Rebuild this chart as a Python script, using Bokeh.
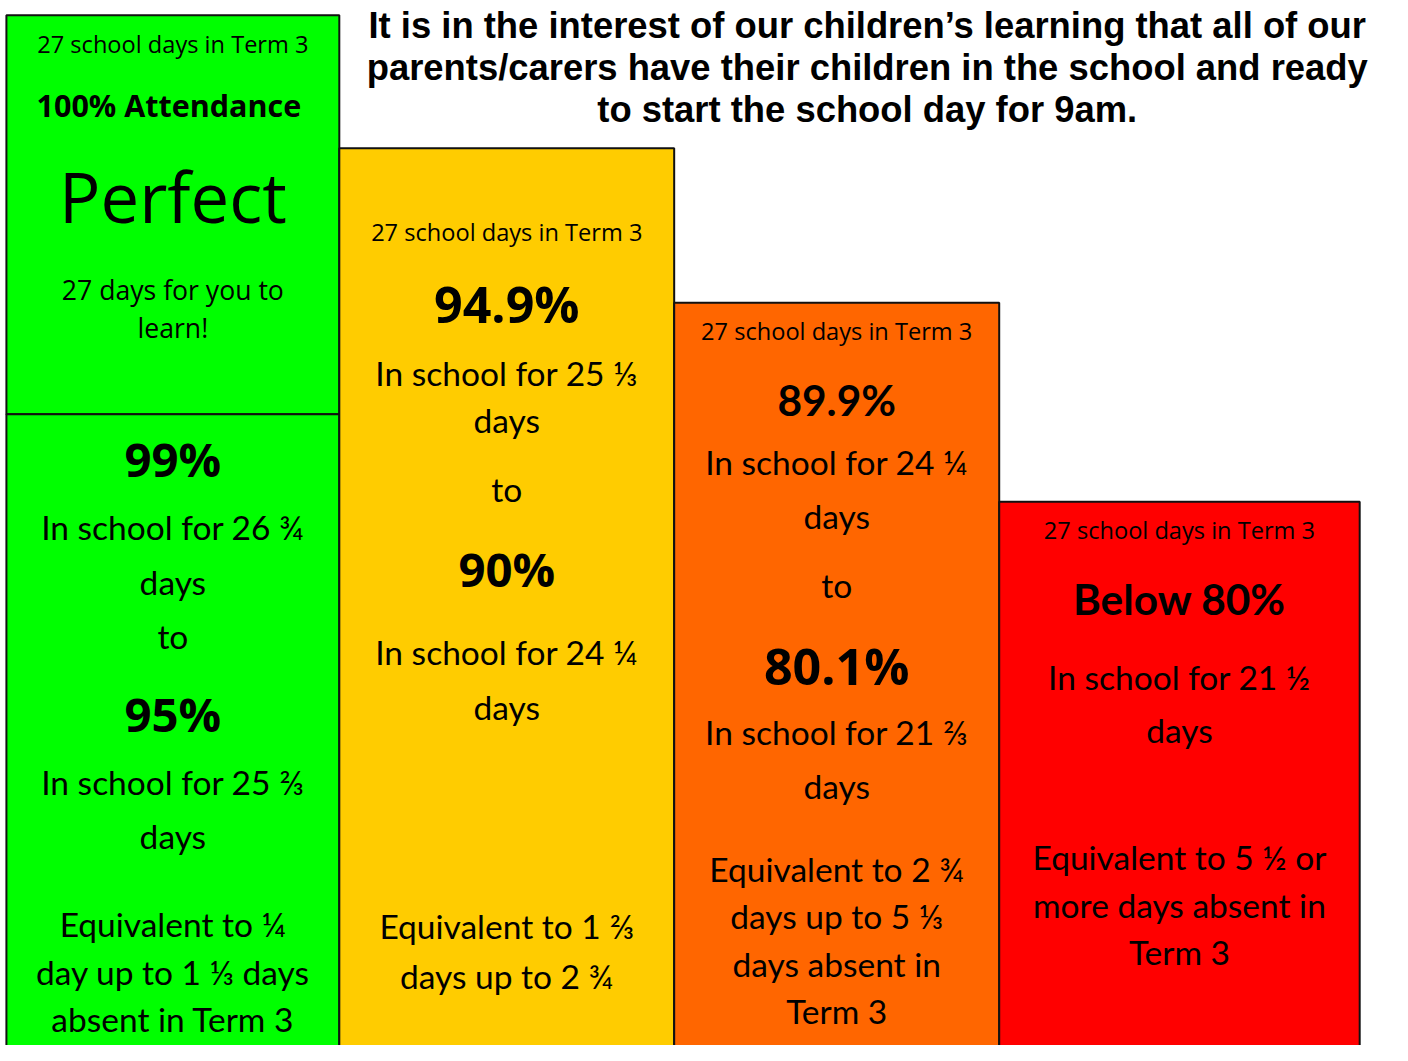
from bokeh.plotting import figure
from bokeh.models import Range1d, ColumnDataSource
from bokeh.core.properties import value
from bokeh.embed import file_html
from bokeh.resources import INLINE

# ---------------- data ----------------
categories = ["Perfect", "99% to 95%", "94.9% to 90%", "89.9% to 80.1%", "Below 80%"]
term_days = 27
# block edges / tops of the attendance steps (reference units)
band_left = [6, 6, 344, 684, 1014]
band_right = [344, 344, 684, 1014, 1380]
band_top = [15, 420, 150, 307, 509]
band_colors = ["#00FF00", "#00FF00", "#FFCC00", "#FF6600", "#FF0000"]

title_lines = [
    "It is in the interest of our children\u2019s learning that all of our",
    "parents/carers have their children in the school and ready",
    "to start the school day for 9am.",
]

header = "27 school days in Term 3"

# (text, y, style) for each block
block_texts = [
    [(header, 44, "cs"), ("100%  Attendance", 106, "csb"), ("Perfect", 198, "big"),
     ("27 days for you to", 294, "cm"), ("learn!", 333, "cm")],
    [("99%", 465, "pct"), ("In school for 26 \u00be", 535, "cal"), ("days", 590, "cal"),
     ("to", 645, "cal"), ("95%", 724, "pct"), ("In school for 25 \u2154", 793, "cal"),
     ("days", 848, "cal"), ("Equivalent to \u00bc", 938, "cal"),
     ("day up to 1 \u2153 days", 986, "cal"), ("absent in Term 3", 1034, "cal")],
    [(header, 235, "cs"), ("94.9%", 308, "pctd"), ("In school for 25 \u2153", 378, "cal"),
     ("days", 426, "cal"), ("to", 496, "cal"), ("90%", 577, "pct"),
     ("In school for 24 \u00bc", 661, "cal"), ("days", 717, "cal"),
     ("Equivalent to 1 \u2154", 940, "cal"), ("days up to 2 \u00be", 990, "cal")],
    [(header, 336, "cs"), ("89.9%", 405, "calb"), ("In school for 24 \u00bc", 469, "cal"),
     ("days", 523, "cal"), ("to", 593, "cal"), ("80.1%", 675, "pctd"),
     ("In school for 21 \u2154", 743, "cal"), ("days", 798, "cal"),
     ("Equivalent to 2 \u00be", 882, "cal"), ("days up to 5 \u2153", 930, "cal"),
     ("days absent in", 978, "cal"), ("Term 3", 1026, "cal")],
    [(header, 538, "cs"), ("Below 80%", 607, "calb"), ("In school for 21 \u00bd", 687, "cal"),
     ("days", 741, "cal"), ("Equivalent to 5 \u00bd or", 870, "cal"),
     ("more days absent in", 918, "cal"), ("Term 3", 966, "cal")],
]

# ---------------- figure ----------------
W, H = 1392, 1045
REF_H = 1061
s = H / REF_H  # uniform scale of the reference layout into the figure


def px(v):
    return f"{v * s:.1f}px"


p = figure(width=W, height=H, output_backend="svg", toolbar_location=None,
           x_range=Range1d(0, W / s), y_range=Range1d(H / s, 0),
           min_border=0)
p.axis.visible = False
p.xgrid.visible = False
p.ygrid.visible = False
p.outline_line_color = None
p.background_fill_color = "white"
p.border_fill_color = "white"

bottom = [1090] * len(band_top)
bottom[0] = band_top[1]
src = ColumnDataSource(dict(left=band_left, right=band_right, top=band_top,
                            bottom=bottom, color=band_colors, cat=categories))
p.quad(left="left", right="right", top="top", bottom="bottom", source=src,
       fill_color="color", line_color="#111111", line_width=2)

COMIC = "Open Sans"
CAL = "Lato"
styles = {
    "cs": (COMIC, "normal", 24),
    "csb": (COMIC, "bold", 31),
    "big": (COMIC, "normal", 70),
    "cm": (COMIC, "normal", 27),
    "pct": (COMIC, "bold", 48),
    "pctd": (COMIC, "bold", 51),
    "cal": (CAL, "normal", 34),
    "calb": (CAL, "bold", 43),
}

groups = {k: dict(x=[], y=[], t=[]) for k in styles}
for i, items in enumerate(block_texts):
    cx = (band_left[i] + band_right[i]) / 2
    for txt, y, st in items:
        groups[st]["x"].append(cx)
        groups[st]["y"].append(y)
        groups[st]["t"].append(txt)

for st, d in groups.items():
    font, fs, size = styles[st]
    p.text(x="x", y="y", text="t", source=ColumnDataSource(d),
           text_font=value(font), text_font_style=fs, text_font_size=px(size),
           text_align="center", text_baseline="middle", text_color="black")

p.text(x=[880] * 3, y=[25, 68, 111], text=title_lines,
       text_font=value("Liberation Sans"), text_font_style="bold",
       text_font_size=px(37), text_align="center", text_baseline="middle",
       text_color="black")

open("out.html", "w").write(file_html(p, INLINE))
